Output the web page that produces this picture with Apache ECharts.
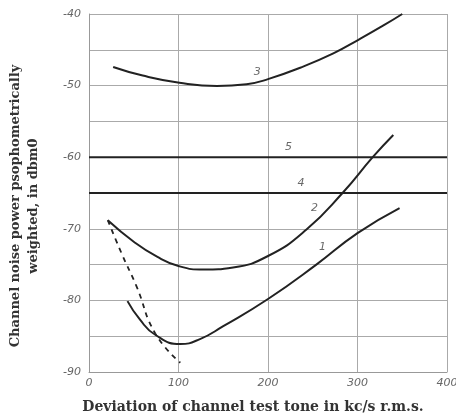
<!DOCTYPE html>
<html style="height: 100%">
<head>
    <meta charset="utf-8">
</head>
<body style="height: 100%; margin: 0; background: #fff">
<div id="container" style="height: 100%"></div>
<script src="https://cdn.jsdelivr.net/npm/echarts@6/dist/echarts.min.js"></script>
<script type="text/javascript">
    // axis ranges / ticks
    var xTicks = [0, 100, 200, 300, 400];
    var yTicks = [-90, -80, -70, -60, -50, -40];

    // curves: [deviation kc/s, noise dbm0]
    var curve1 = [[43, -80.1], [57, -82.7], [74, -84.8], [102, -86.1], [124, -85.4], [150, -83.6], [200, -79.8], [254, -75], [300, -70.6], [347, -67.1]];
    var curve2 = [[21, -68.8], [50, -71.8], [76, -73.9], [100, -75.2], [128, -75.7], [161, -75.4], [200, -73.8], [243, -70.1], [284, -64.9], [317, -60], [340, -56.9]];
    var curve3 = [[27, -47.4], [60, -48.6], [101, -49.6], [143, -50.05], [176, -49.8], [200, -49.1], [236, -47.5], [273, -45.5], [301, -43.6], [329, -41.6], [350, -40]];
    var curve4 = [[0, -65], [400, -65]];
    var curve5 = [[0, -60], [400, -60]];
    var dashed = [[21, -68.8], [37, -73.6], [53, -78], [74, -84.6], [102, -88.7]];

    // curve numbers: [x, y, text]
    var curveLabels = [[188, -48.1, '3'], [223, -58.6, '5'], [237, -63.6, '4'], [252, -67.1, '2'], [261, -72.5, '1']];

    var dom = document.getElementById("container");
    var myChart = echarts.init(dom);

    function line(data, dash) {
        return {
            type: 'line',
            data: data,
            smooth: true,
            showSymbol: false,
            silent: true,
            lineStyle: { color: '#222', width: dash ? 1.8 : 2, type: dash ? [5, 5] : 'solid' }
        };
    }

    var option = {
        animation: false,
        grid: { left: 89, right: 9, top: 14, bottom: 45, containLabel: false, outerBoundsMode: 'none' },
        xAxis: {
            type: 'value',
            min: xTicks[0], max: xTicks[xTicks.length - 1], interval: 100,
            name: 'Deviation of channel test tone in kc/s r.m.s.',
            nameLocation: 'middle',
            nameGap: 28,
            nameTextStyle: { fontFamily: 'DejaVu Serif', fontWeight: 'bold', fontSize: 14, color: '#333', padding: [0, 30, 0, 0] },
            axisLine: { lineStyle: { color: '#999' } },
            axisTick: { show: false },
            axisLabel: { fontFamily: 'DejaVu Sans', fontStyle: 'italic', fontSize: 11, color: '#666', margin: 6 },
            splitLine: { lineStyle: { color: '#aaa', width: 1 } }
        },
        yAxis: {
            type: 'value',
            min: yTicks[0], max: yTicks[yTicks.length - 1], interval: 5,
            name: 'Channel noise power psophometrically\nweighted, in dbm0',
            nameLocation: 'middle',
            nameRotate: 90,
            nameGap: 46,
            nameTextStyle: { fontFamily: 'DejaVu Serif', fontWeight: 'bold', fontSize: 13, color: '#333', lineHeight: 18, align: 'center', padding: [0, 26, 0, 0] },
            axisLine: { show: true, lineStyle: { color: '#999' } },
            axisTick: { show: false },
            axisLabel: {
                fontFamily: 'DejaVu Sans', fontStyle: 'italic', fontSize: 11, color: '#666', margin: 8,
                formatter: function (v) { return yTicks.indexOf(v) >= 0 ? String(v) : ''; }
            },
            splitLine: { lineStyle: { color: '#aaa', width: 1 } }
        },
        series: [
            line(curve1), line(curve2), line(curve3), line(curve4), line(curve5), line(dashed, true),
            {
                type: 'scatter',
                symbolSize: 0,
                silent: true,
                data: curveLabels.map(function (d) { return { value: [d[0], d[1]], name: d[2] }; }),
                label: {
                    show: true, position: 'inside', formatter: '{b}',
                    fontFamily: 'DejaVu Sans', fontStyle: 'italic', fontSize: 11, color: '#444'
                }
            }
        ]
    };
    myChart.setOption(option, true);
</script>
</body>
</html>
